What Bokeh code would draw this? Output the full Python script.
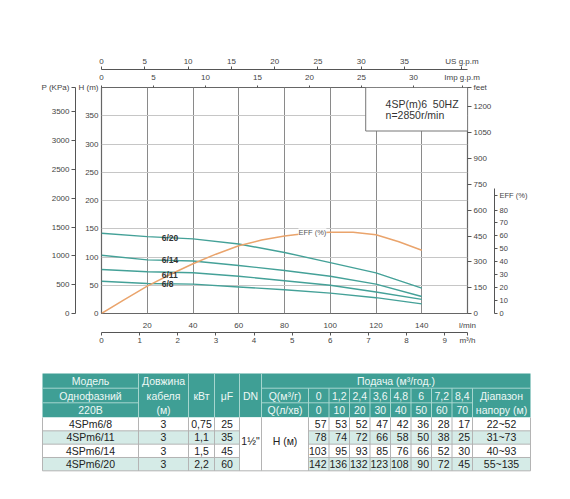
from bokeh.plotting import figure
from bokeh.models import LinearAxis, Range1d, FixedTicker, Label, Grid
from bokeh.embed import file_html
from bokeh.resources import INLINE
from bokeh.core.properties import value

# ---------------- data ----------------
models = ["4SPm6/8", "4SPm6/11", "4SPm6/14", "4SPm6/20"]
curve_names = ["6/8", "6/11", "6/14", "6/20"]
cable_m = ["3", "3", "3", "3"]
power_kw = ["0,75", "1,1", "1,5", "2,2"]
capacitor_uf = ["25", "35", "45", "60"]
dn_label = "1½\""
q_m3h = [0, 1.2, 2.4, 3.6, 4.8, 6, 7.2, 8.4]
q_m3h_labels = ["0", "1,2", "2,4", "3,6", "4,8", "6", "7,2", "8,4"]
q_lmin_labels = ["0", "10", "20", "30", "40", "50", "60", "70"]
head_6_8 = [57, 53, 52, 47, 42, 36, 28, 17]
head_6_11 = [78, 74, 72, 66, 58, 50, 38, 25]
head_6_14 = [103, 95, 93, 85, 76, 66, 52, 30]
head_6_20 = [142, 136, 132, 123, 108, 90, 72, 45]
head_ranges = ["22~52", "31~73", "40~93", "55~135"]
# efficiency curve as drawn on the chart (read in head-axis units, m)
eff_q_lmin = [0, 10, 20, 30, 40, 50, 60, 70, 80, 90, 100, 110, 120, 130, 140]
eff_curve_h = [0, 24.5, 48.5, 69, 88, 105, 120, 130, 137, 142, 144, 144, 139.5, 127, 112]

lmin_ticks = [20, 40, 60, 80, 100, 120, 140]
m3h_ticks = [0, 1, 2, 3, 4, 5, 6, 7, 8, 9]
us_ticks = [0, 5, 10, 15, 20, 25, 30, 35]
imp_ticks = [0, 5, 10, 15, 20, 25, 30]
h_ticks = [0, 50, 100, 150, 200, 250, 300, 350]
p_ticks = [0, 500, 1000, 1500, 2000, 2500, 3000, 3500]
feet_ticks = [0, 150, 300, 450, 600, 750, 900, 1050, 1200]
eff_ticks = [0, 10, 20, 30, 40, 50, 60, 70, 80]

FONT = "Liberation Sans"
TEAL = "#3f9f95"
CURVE = "#44a198"
ORANGE = "#eaa46c"

# unit conversions
M3H_TO_LMIN = 1000.0 / 60.0
LMIN_PER_USGPM = 3.785411784
LMIN_PER_IMPGPM = 4.54609
KPA_PER_M = 9.80665
M_PER_FT = 0.3048

Q_MAX = 160.0
H_MAX = 400.0

# ---------------- chart ----------------
W = 570
H1 = 355
FL, FR, FT, FB = 101, 467, 87, 313

q_lmin = [q * M3H_TO_LMIN for q in q_m3h]
heads = [head_6_8, head_6_11, head_6_14, head_6_20]

p = figure(width=W, height=H1, x_range=Range1d(0, Q_MAX), y_range=Range1d(0, H_MAX),
           output_backend="svg", toolbar_location=None,
           x_axis_location=None, y_axis_location=None,
           min_border_left=FL, min_border_right=W - FR,
           min_border_top=FT, min_border_bottom=H1 - FB,
           outline_line_color="#666", outline_line_width=1.2)
p.grid.visible = False

us_max = Q_MAX / LMIN_PER_USGPM
imp_max = Q_MAX / LMIN_PER_IMPGPM
m3h_max = Q_MAX / M3H_TO_LMIN
kpa_max = H_MAX * KPA_PER_M
ft_max = H_MAX / M_PER_FT
p.extra_x_ranges = {
    "m3h": Range1d(0, m3h_max),
    "us": Range1d(0, us_max),
    "imp": Range1d(0, imp_max),
}
p.extra_y_ranges = {
    "kpa": Range1d(0, kpa_max),
    "feet": Range1d(0, ft_max),
    "eff": Range1d(0, 174.8),
}

p.add_layout(Grid(dimension=0, ticker=FixedTicker(ticks=lmin_ticks),
                  grid_line_color="#8a8a8a", grid_line_width=1))
p.add_layout(Grid(dimension=1, ticker=FixedTicker(ticks=h_ticks[1:]),
                  grid_line_color="#c6c6c6", grid_line_width=1.2))


def mk_axis(ticks, dim, range_name=None, tick_out=3, standoff=2, size="8px",
            line=True, bounds=None, title=None):
    kw = {}
    if range_name:
        kw["x_range_name" if dim == "x" else "y_range_name"] = range_name
    all_ticks = list(ticks)
    overrides = {}
    if title is not None:
        pos, txt = title
        all_ticks.append(pos)
        overrides[pos] = txt
    ax = LinearAxis(ticker=FixedTicker(ticks=all_ticks), **kw)
    if overrides:
        ax.major_label_overrides = overrides
    ax.major_tick_out = tick_out
    ax.major_tick_in = 0
    ax.minor_tick_out = 0
    ax.minor_tick_in = 0
    ax.minor_tick_line_color = None
    ax.major_label_standoff = standoff
    ax.major_label_text_font = FONT
    ax.major_label_text_font_size = size
    ax.major_label_text_color = "#444"
    ax.major_tick_line_color = "#555" if tick_out > 0 else None
    ax.axis_line_color = "#555" if line else None
    if bounds is not None:
        ax.bounds = bounds
    return ax


def spacer(dim, n):
    ax = mk_axis([], dim, tick_out=n, standoff=0, line=False)
    ax.major_tick_line_color = None
    return ax


# left: H (inner) then P (outer)
p.add_layout(mk_axis(h_ticks, "y", tick_out=0, standoff=3, line=False,
                     title=(H_MAX, "H (m)")), "left")
p.add_layout(spacer("y", 6), "left")
p.add_layout(mk_axis(p_ticks, "y", "kpa", tick_out=4, standoff=2,
                     title=(kpa_max - 0.5, "P (KPa)")), "left")
# right: feet (inner) then EFF (outer)
p.add_layout(mk_axis(feet_ticks, "y", "feet", tick_out=4, standoff=2, line=False,
                     title=(ft_max - 0.5, "feet")), "right")
p.add_layout(spacer("y", 16), "right")
p.add_layout(mk_axis(eff_ticks, "y", "eff", tick_out=3, standoff=2, size="7.5px",
                     bounds=(0, 97), title=(91, "EFF (%)")), "right")
# top: Imp (inner) then US (outer)
p.add_layout(mk_axis(imp_ticks, "x", "imp", tick_out=2, standoff=4, line=False,
                     title=(34.67, "Imp g.p.m")), "above")
p.add_layout(spacer("x", 1), "above")
p.add_layout(mk_axis(us_ticks, "x", "us", tick_out=3, standoff=1,
                     title=(41.63, "US g.p.m")), "above")
# bottom: l/min (inner) then m3/h (outer)
p.add_layout(mk_axis(lmin_ticks, "x", tick_out=0, standoff=7, line=False,
                     title=(Q_MAX - 0.01, "l/min")), "below")
p.add_layout(spacer("x", 4), "below")
p.add_layout(mk_axis(m3h_ticks, "x", "m3h", tick_out=3, standoff=0,
                     title=(m3h_max - 0.001, "m³/h")), "below")

# info box
p.quad(left=[115.5], right=[Q_MAX], bottom=[323], top=[H_MAX],
       fill_color="white", line_color="#777", line_width=1)
p.text(x=[124.2, 124.2], y=[370.4, 351], text=["4SP(m)6 \u00a050HZ", "n=2850r/min"],
       text_font=value(FONT), text_font_size=value("10.5px"), text_color="#333",
       text_align="left", text_baseline="middle")

# pump curves
for h in heads:
    p.line(q_lmin, h, line_color=CURVE, line_width=1.4)

# efficiency curve
p.line(eff_q_lmin, eff_curve_h, line_color=ORANGE, line_width=1.5)

# curve labels (placed on the curves around 30 l/min)
lab_x = 26.3
lab_y = [(h[1] + h[2]) / 2.0 for h in heads]
lab_y[1] -= 4
p.text(x=[lab_x] * 4, y=lab_y, text=curve_names,
       text_font=value(FONT), text_font_size=value("8.5px"), text_font_style="bold",
       text_color="#333", text_align="left", text_baseline="middle")

p.add_layout(Label(x=86.1, y=143, text="EFF (%)", text_font=FONT, text_font_size="7.5px",
                   text_color="#555", text_align="left", text_baseline="middle",
                   background_fill_color="white", background_fill_alpha=1.0))

# ---------------- table ----------------
H2 = 130
Y0 = H1
t = figure(width=W, height=H2, x_range=Range1d(0, W), y_range=Range1d(H2, 0),
           output_backend="svg", toolbar_location=None,
           x_axis_location=None, y_axis_location=None,
           min_border=0, outline_line_color=None)
t.grid.visible = False

ce = [42, 138, 188, 214, 239, 261, 308] + [308 + 20.5 * (i + 1) for i in range(8)] + [530]
hdr = [y - Y0 for y in [373, 387.7, 402.3, 417]]
ROW_H = 13.33
rows = [hdr[3] + ROW_H * i for i in range(5)]
hc = [(hdr[k] + hdr[k + 1]) / 2 for k in range(3)]
rc = [(rows[k] + rows[k + 1]) / 2 for k in range(4)]


def cx(i):
    return (ce[i] + ce[i + 1]) / 2


# backgrounds
t.quad(left=[ce[0]], right=[ce[-1]], top=[hdr[0]], bottom=[hdr[3]],
       fill_color=TEAL, line_color=None)
t.quad(left=[ce[0]] * 4, right=[ce[-1]] * 4, top=rows[:4], bottom=rows[1:],
       fill_color=["white", "#d5ebe7", "white", "#d5ebe7"], line_color=None)
t.quad(left=[ce[4]], right=[ce[6]], top=[rows[0]], bottom=[rows[4]],
       fill_color="white", line_color=None)

# header separators
hx0, hy0, hx1, hy1 = [], [], [], []
for i in range(1, 6):
    hx0.append(ce[i]); hx1.append(ce[i]); hy0.append(hdr[0]); hy1.append(hdr[3])
for i in range(6, 15):
    hx0.append(ce[i]); hx1.append(ce[i]); hy0.append(hdr[1]); hy1.append(hdr[3])
for (y, a, b) in [(hdr[1], 5, 15), (hdr[2], 5, 14), (hdr[1], 0, 1), (hdr[2], 0, 1)]:
    hx0.append(ce[a]); hx1.append(ce[b]); hy0.append(y); hy1.append(y)
t.segment(x0=hx0, y0=hy0, x1=hx1, y1=hy1, line_color="#a6d6cf", line_width=1)

# data grid lines
dx0, dy0, dx1, dy1 = [], [], [], []
for i in range(16):
    dx0.append(ce[i]); dx1.append(ce[i]); dy0.append(rows[0]); dy1.append(rows[4])
for r in rows[1:4]:
    for (a, b) in [(0, 4), (6, 15)]:
        dx0.append(ce[a]); dx1.append(ce[b]); dy0.append(r); dy1.append(r)
dx0.append(ce[0]); dx1.append(ce[15]); dy0.append(rows[4]); dy1.append(rows[4])
t.segment(x0=dx0, y0=dy0, x1=dx1, y1=dy1, line_color="#b4b4b4", line_width=1)

# header texts
htx, hty, htt = [], [], []
for k, s in enumerate(["Модель", "Однофазний", "220В"]):
    htx.append(cx(0)); hty.append(hc[k]); htt.append(s)
for k, s in enumerate(["Довжина", "кабеля", "(м)"]):
    htx.append(cx(1)); hty.append(hc[k]); htt.append(s)
for i, s in [(2, "кВт"), (3, "μF"), (4, "DN")]:
    htx.append(cx(i)); hty.append(hc[1]); htt.append(s)
htx.append((ce[5] + ce[15]) / 2); hty.append(hc[0]); htt.append("Подача (м³/год.)")
htx += [cx(5), cx(5)]; hty += [hc[1], hc[2]]; htt += ["Q(м³/г)", "Q(л/хв)"]
for j in range(8):
    htx += [cx(6 + j), cx(6 + j)]; hty += [hc[1], hc[2]]
    htt += [q_m3h_labels[j], q_lmin_labels[j]]
htx += [cx(14), cx(14)]; hty += [hc[1], hc[2]]; htt += ["Діапазон", "напору (м)"]
t.text(x=htx, y=hty, text=htt, text_font=value(FONT), text_font_size=value("10.5px"),
       text_color="#eef8f6", text_align="center", text_baseline="middle")

# data texts
ctx, cty, ctt = [], [], []
for r in range(4):
    for i, arr in [(0, models), (1, cable_m), (2, power_kw), (3, capacitor_uf), (14, head_ranges)]:
        ctx.append(cx(i)); cty.append(rc[r]); ctt.append(arr[r])
mid = (rows[0] + rows[4]) / 2 - 3
ctx += [cx(4), cx(5)]; cty += [mid, mid]; ctt += [dn_label, "H (м)"]
t.text(x=ctx, y=cty, text=ctt, text_font=value(FONT), text_font_size=value("10.5px"),
       text_color="#222", text_align="center", text_baseline="middle")

rtx, rty, rtt = [], [], []
for r in range(4):
    for j in range(8):
        rtx.append(ce[7 + j] - 2.5); rty.append(rc[r]); rtt.append(str(heads[r][j]))
t.text(x=rtx, y=rty, text=rtt, text_font=value(FONT), text_font_size=value("10.5px"),
       text_color="#222", text_align="right", text_baseline="middle")

open("out.html", "w").write(file_html([p, t], INLINE))
